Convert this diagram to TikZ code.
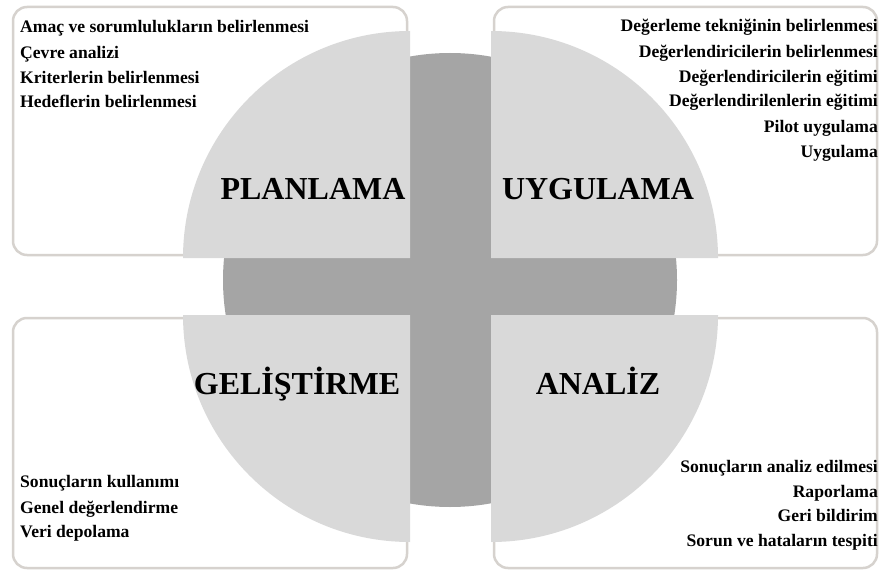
\documentclass[tikz,border=0pt]{standalone}
\usepackage{fontspec}
\setmainfont{Liberation Serif}
\definecolor{darkgr}{HTML}{A5A5A5}
\definecolor{lightgr}{HTML}{D9D9D9}
\definecolor{boxline}{RGB}{214,210,206}
\begin{document}
\begin{tikzpicture}[x=1pt,y=1pt,
  panel/.style={draw=boxline,line width=2.5pt,rounded corners=14pt,fill=white},
  item/.style={inner sep=0pt,font=\fontsize{17.6}{20}\selectfont\bfseries},
  itemL/.style={item,anchor=base west},
  itemR/.style={item,anchor=base east},
  title/.style={inner sep=0pt,anchor=base,font=\fontsize{32}{36}\selectfont\bfseries}]
\useasboundingbox[fill=white] (0,0) rectangle (880,574);
% panels
\draw[panel] (13,319) rectangle (407,567);
\draw[panel] (494,319) rectangle (877,567);
\draw[panel] (13,6) rectangle (407,256);
\draw[panel] (494,6) rectangle (877,256);
% central circle
\fill[darkgr] (450,294) circle[radius=227];
% quarters
\fill[lightgr] (410,316) -- (183,316) arc[start angle=180,end angle=90,radius=227] -- cycle;
\fill[lightgr] (491,316) -- (491,543) arc[start angle=90,end angle=0,radius=227] -- cycle;
\fill[lightgr] (410,259) -- (183,259) arc[start angle=180,end angle=270,radius=227] -- cycle;
\fill[lightgr] (491,259) -- (718,259) arc[start angle=0,end angle=-90,radius=227] -- cycle;
% titles
\node[title] (plan) at (313,374) {PLANLAMA};
\node[title] (uyg) at (598,374) {UYGULAMA};
\node[title] (gel) at (297,180) {GELİŞTİRME};
\node[title] (ana) at (598,180) {ANALİZ};
% top-left items
\node[itemL] (a1) at (20,541) {Amaç ve sorumlulukların belirlenmesi};
\node[itemL] (a2) at (20,515) {Çevre analizi};
\node[itemL] (a3) at (20,490) {Kriterlerin belirlenmesi};
\node[itemL] (a4) at (20,466) {Hedeflerin belirlenmesi};
% top-right items
\node[itemR] (b1) at (878,542) {Değerleme tekniğinin belirlenmesi};
\node[itemR] (b2) at (878,516) {Değerlendiricilerin belirlenmesi};
\node[itemR] (b3) at (878,491) {Değerlendiricilerin eğitimi};
\node[itemR] (b4) at (878,467) {Değerlendirilenlerin eğitimi};
\node[itemR] (b5) at (878,441) {Pilot uygulama};
\node[itemR] (b6) at (878,416) {Uygulama};
% bottom-left items
\node[itemL] (c1) at (20,87) {Sonuçların kullanımı};
\node[itemL] (c2) at (20,61) {Genel değerlendirme};
\node[itemL] (c3) at (20,37) {Veri depolama};
% bottom-right items
\node[itemR] (d1) at (878,102) {Sonuçların analiz edilmesi};
\node[itemR] (d2) at (878,77) {Raporlama};
\node[itemR] (d3) at (878,53) {Geri bildirim};
\node[itemR] (d4) at (878,28) {Sorun ve hataların tespiti};
\end{tikzpicture}
\end{document}
